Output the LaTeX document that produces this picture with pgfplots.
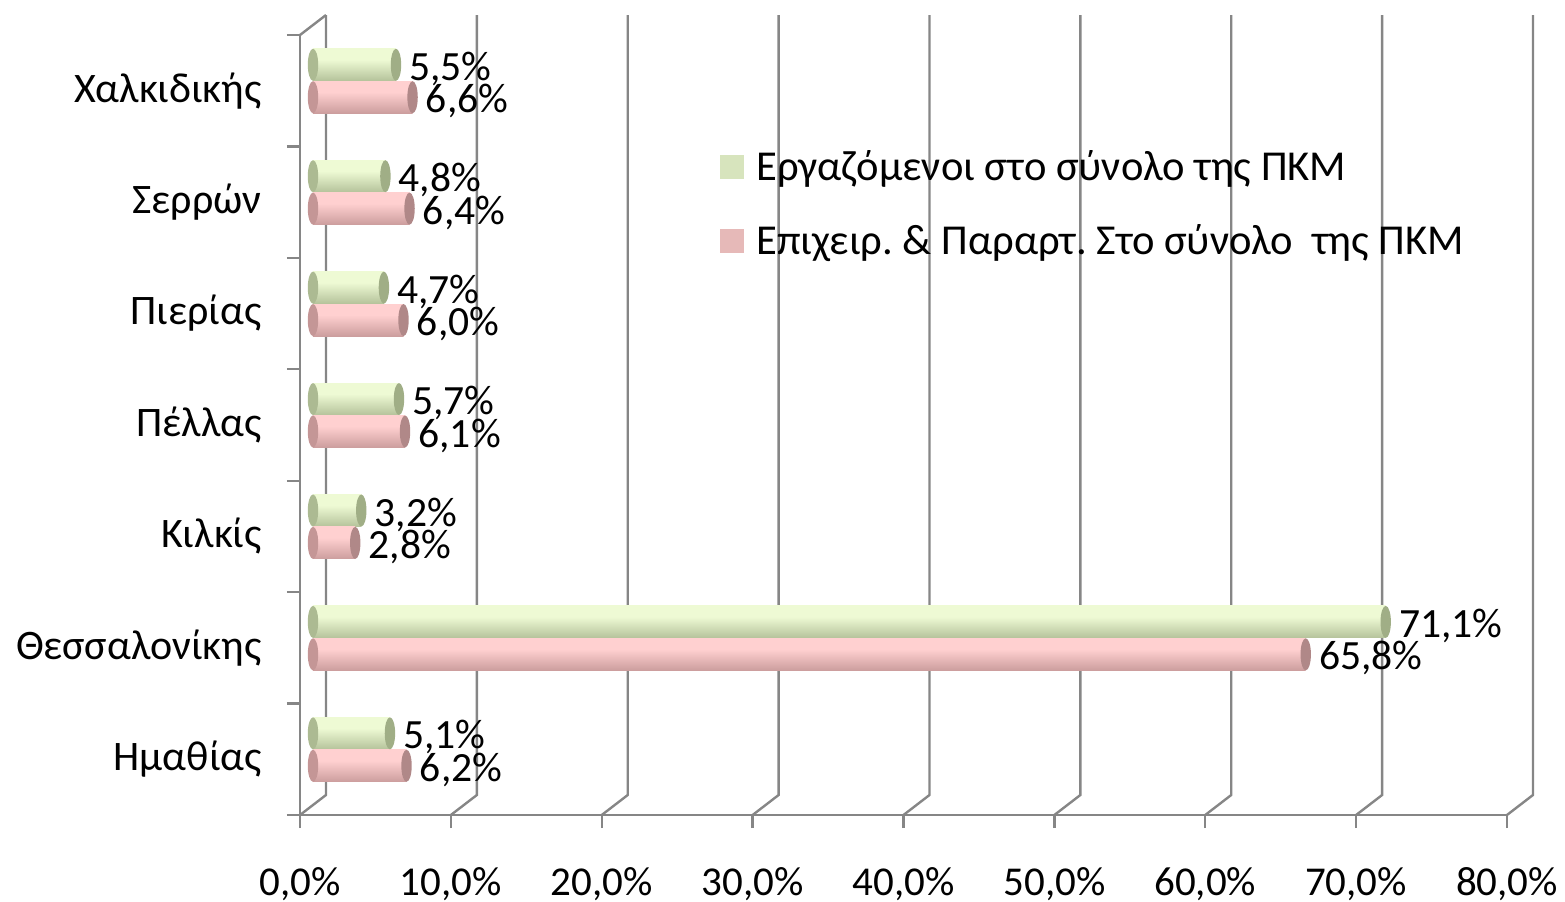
\documentclass[border=0pt]{standalone}
\usepackage{fontspec}
\setmainfont{Carlito}
\usepackage{pgfplots}
\pgfplotsset{compat=1.18}
\definecolor{gridc}{RGB}{134,134,134}
\definecolor{gtop}{RGB}{214,228,186}
\definecolor{gmid}{RGB}{238,250,212}
\definecolor{gdk}{RGB}{172,186,146}
\definecolor{gbot}{RGB}{120,134,100}
\definecolor{ptop}{RGB}{236,192,192}
\definecolor{pmid}{RGB}{255,208,208}
\definecolor{pdk}{RGB}{196,150,150}
\definecolor{pbot}{RGB}{136,96,96}
\definecolor{gcap}{RGB}{160,174,134}
\definecolor{pcap}{RGB}{176,136,136}
\definecolor{gleg}{RGB}{215,228,189}
\definecolor{pleg}{RGB}{230,185,184}
\pgfdeclareverticalshading{gcyl}{100bp}{color(0bp)=(gbot); color(20bp)=(gdk); color(58bp)=(gmid); color(78bp)=(gmid); color(100bp)=(gtop)}
\pgfdeclareverticalshading{pcyl}{100bp}{color(0bp)=(pbot); color(20bp)=(pdk); color(58bp)=(pmid); color(78bp)=(pmid); color(100bp)=(ptop)}
\pgfdeclareplotmark{cap}{\pgfpathellipse{\pgfpointorigin}{\pgfqpoint{2.6pt}{0pt}}{\pgfqpoint{0pt}{8pt}}\pgfusepathqfill}
\pgfplotsset{
  lab/.style={point meta=x,
    nodes near coords={\pgfmathprintnumber[fixed,fixed zerofill,precision=1,use comma,assume math mode=true]{\pgfplotspointmeta}\%},
    nodes near coords style={font=\fontsize{20.8}{24}\selectfont, anchor=west, inner sep=0pt, xshift=6.5pt, yshift=-2pt, black}},
  gbar/.style={xbar, bar width=16pt, bar shift=0pt, draw=none, shading=gcyl, xshift=6.5pt, lab,
    legend image code/.code={\pgfsetfillcolor{gleg}\pgfpathrectangle{\pgfpoint{0pt}{-6pt}}{\pgfpoint{12pt}{12pt}}\pgfusepath{fill}}},
  pbar/.style={xbar, bar width=16pt, bar shift=0pt, draw=none, shading=pcyl, xshift=6.5pt, lab,
    legend image code/.code={\pgfsetfillcolor{pleg}\pgfpathrectangle{\pgfpoint{0pt}{-6pt}}{\pgfpoint{12pt}{12pt}}\pgfusepath{fill}}},
}

\begin{document}
\frenchspacing
\begin{tikzpicture}
\begin{axis}[
  scale only axis,
  width=603.5pt, height=390pt,
  xmin=0, xmax=80, ymin=-0.5, ymax=6.5,
  clip=false,
  axis x line*=bottom, axis y line*=left,
  axis line style={draw=gridc, line width=1.2pt, -},
  tick style={draw=gridc, line width=1.2pt},
  tick align=outside,
  major tick length=6.5pt,
  xtick={0,10,...,80},
  xticklabels={{0,0\%},{10,0\%},{20,0\%},{30,0\%},{40,0\%},{50,0\%},{60,0\%},{70,0\%},{80,0\%}},
  xticklabel style={font=\fontsize{20.5}{24}\selectfont, inner sep=0pt, anchor=north, yshift=-19.5pt},
  ytick={-0.5,0.5,...,6.5},
  yticklabels={},
  extra y ticks={0,1,2,3,4,5,6},
  extra y tick labels={Ημαθίας,Θεσσαλονίκης,Κιλκίς,Πέλλας,Πιερίας,Σερρών,Χαλκιδικής},
  extra y tick style={major tick length=0pt},
  yticklabel style={font=\fontsize{21}{25}\selectfont, inner sep=0pt, anchor=east, xshift=-19pt},
  legend style={draw=none, fill=none, at={(0.348,0.858)}, anchor=north west,
    font=\fontsize{21.3}{25}\selectfont, row sep=16.5pt, column sep=4pt, inner sep=0pt},
  legend cell align=left,
]
% back wall grid and floor diagonals
\pgfplotsinvokeforeach{0,10,20,30,40,50,60,70,80}{
  \draw[gridc, line width=1.2pt] (axis cs:#1,-0.5) -- ([xshift=13pt,yshift=10pt]axis cs:#1,-0.5) -- ([xshift=13pt,yshift=10pt]axis cs:#1,6.5);
}
\draw[gridc, line width=1.2pt] (axis cs:0,6.5) -- ([xshift=13pt,yshift=10pt]axis cs:0,6.5);

% one bar per category so that each cylinder is shaded on its own
\addplot[gbar] coordinates {(5.1,0.233)};
\addlegendentry{Εργαζόμενοι στο σύνολο της ΠΚΜ}
\addplot[pbar] coordinates {(6.2,-0.058)};
\addlegendentry{Επιχειρ. \& Παραρτ. Στο σύνολο~ της ΠΚΜ}
\addplot[gbar, forget plot] coordinates {(71.1,1.233)};
\addplot[gbar, forget plot] coordinates {(3.2,2.233)};
\addplot[gbar, forget plot] coordinates {(5.7,3.233)};
\addplot[gbar, forget plot] coordinates {(4.7,4.233)};
\addplot[gbar, forget plot] coordinates {(4.8,5.233)};
\addplot[gbar, forget plot] coordinates {(5.5,6.233)};
\addplot[pbar, forget plot] coordinates {(65.8,0.942)};
\addplot[pbar, forget plot] coordinates {(2.8,1.942)};
\addplot[pbar, forget plot] coordinates {(6.1,2.942)};
\addplot[pbar, forget plot] coordinates {(6.0,3.942)};
\addplot[pbar, forget plot] coordinates {(6.4,4.942)};
\addplot[pbar, forget plot] coordinates {(6.6,5.942)};
% cylinder end caps
\addplot[only marks, mark=cap, mark options={fill=gcap}, xshift=6.5pt, forget plot]
  coordinates {(5.1,0.233) (71.1,1.233) (3.2,2.233) (5.7,3.233) (4.7,4.233) (4.8,5.233) (5.5,6.233)};
\addplot[only marks, mark=cap, mark options={fill=pcap}, xshift=6.5pt, forget plot]
  coordinates {(6.2,-0.058) (65.8,0.942) (2.8,1.942) (6.1,2.942) (6.0,3.942) (6.4,4.942) (6.6,5.942)};
\addplot[only marks, mark=cap, mark options={fill=gdk}, xshift=6.5pt, forget plot]
  coordinates {(0,0.233) (0,1.233) (0,2.233) (0,3.233) (0,4.233) (0,5.233) (0,6.233)};
\addplot[only marks, mark=cap, mark options={fill=pdk}, xshift=6.5pt, forget plot]
  coordinates {(0,-0.058) (0,0.942) (0,1.942) (0,2.942) (0,3.942) (0,4.942) (0,5.942)};
\end{axis}
\pgfresetboundingbox
\useasboundingbox (-150pt,-43pt) rectangle (632.5pt,407.5pt);
\end{tikzpicture}
\end{document}
